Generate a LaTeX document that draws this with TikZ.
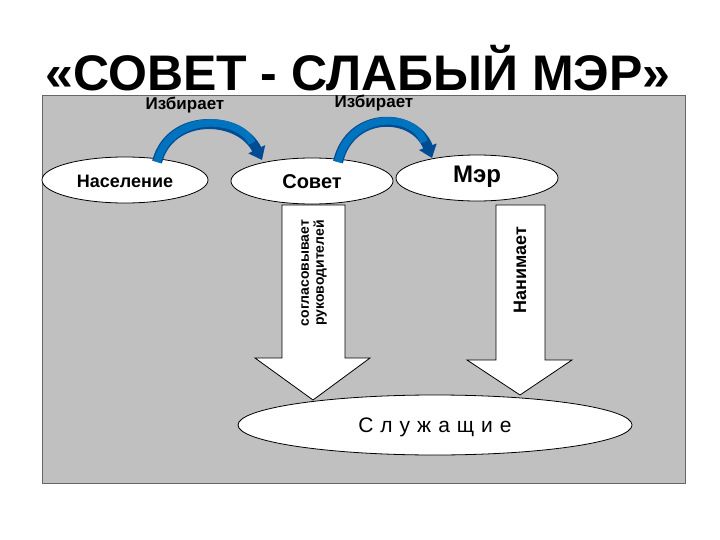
\documentclass[tikz,border=0pt]{standalone}
\usepackage{fontspec}
\setmainfont{Liberation Sans}
\usetikzlibrary{arrows.meta,shapes.geometric}
\tikzset{
 ell/.style={draw=black,fill=white,ellipse,line width=0.8pt},
 blk/.style={draw=black,fill=white,line width=0.8pt,line join=miter},
 lbl/.style={font=\bfseries\fontsize{17}{19}\selectfont},
 curv/.style={line width=10pt,draw=blue!40!black!70!cyan,-{Triangle[width=18pt,length=12pt]}},
 curvin/.style={line width=7.5pt,draw=blue!40!cyan!75!black},
}
\definecolor{bg}{RGB}{192,192,192}
\begin{document}
\begin{tikzpicture}[x=1pt,y=-1pt]
\useasboundingbox (0,0) rectangle (720,540);
\fill[white] (0,0) rectangle (720,540);
\node (title) at (358,68) {\bfseries\fontsize{50}{54}\selectfont «СОВЕТ - СЛАБЫЙ МЭР»};
\node[draw=black!60,fill=bg,minimum width=643pt,minimum height=388pt,inner sep=0pt,anchor=north west] (bg) at (42,95) {};
% block arrows
\draw[blk] (282,205) -- (345,205) -- (345,358) -- (370,358) -- (313,400) -- (255,358) -- (282,358) -- cycle;
\draw[blk] (496,205) -- (545,205) -- (545,360) -- (572,360) -- (520,395) -- (467,360) -- (496,360) -- cycle;
\node[ell,minimum width=394pt,minimum height=60pt] (sl) at (435,425) {};
\node[font=\fontsize{21}{23}\selectfont] (slt) at (435,427) {С\,\,л\,\,у\,\,ж\,\,а\,\,щ\,\,и\,\,е};
\node[rotate=90,align=center,font=\bfseries\fontsize{14}{15}\selectfont] (sog) at (314,273) {согласовывает\\руководителей};
\node[rotate=90,font=\bfseries\fontsize{18}{20}\selectfont] (nan) at (520,270) {Нанимает};
% ellipses
\node[ell,minimum width=166pt,minimum height=46pt] (nas) at (125,180) {};
\node[font=\bfseries\fontsize{18}{20}\selectfont] at (125,181) {Население};
\node[ell,minimum width=162pt,minimum height=46pt] (sov) at (312,181) {};
\node[font=\bfseries\fontsize{20}{22}\selectfont] at (312,182) {Совет};
\node[ell,minimum width=162pt,minimum height=46pt] (mer) at (477,178) {};
\node[font=\bfseries\fontsize{24}{26}\selectfont] at (477,177) {Мэр};
% curved arrows
\coordinate (a1) at (157,162); \coordinate (b1) at (262,160);
\coordinate (a2) at (338,162); \coordinate (b2) at (432,158);
\draw[curv] (a1) .. controls (170,112) and (240,115) .. (b1);
\draw[curvin] (a1) .. controls (170,112) and (240,115) .. (252,143);
\draw[curv] (a2) .. controls (350,110) and (415,112) .. (b2);
\draw[curvin] (a2) .. controls (350,110) and (415,112) .. (424,142);
\node[lbl] (iz1) at (185,105) {Избирает};
\node[lbl] (iz2) at (374,103) {Избирает};
\end{tikzpicture}
\end{document}
